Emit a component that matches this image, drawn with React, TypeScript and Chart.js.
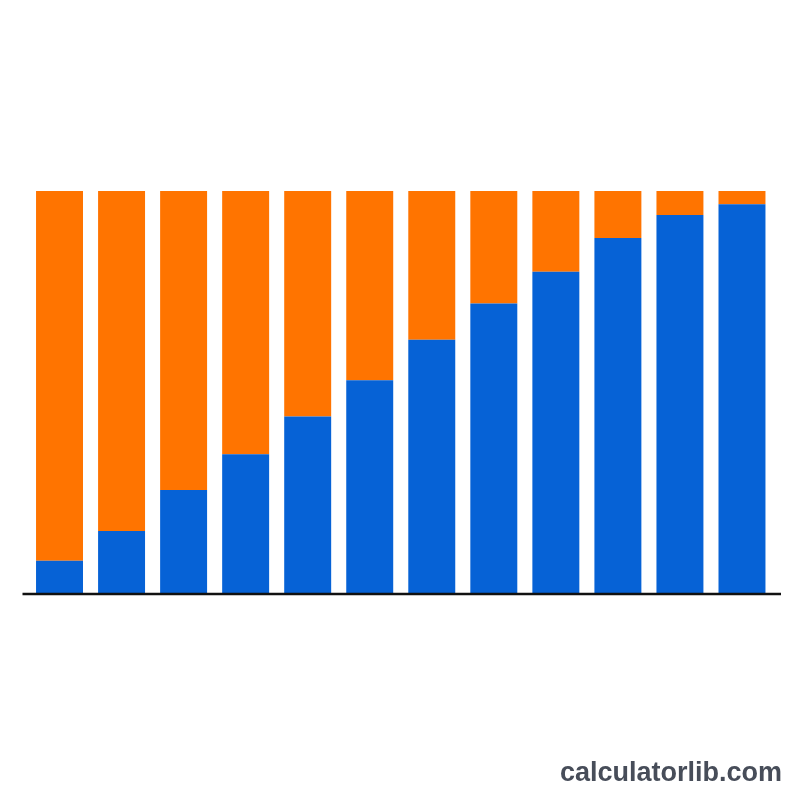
import React, { useEffect, useRef } from "react";
import { Chart, registerables } from "chart.js";

Chart.register(...registerables);

const categories = ["1", "2", "3", "4", "5", "6", "7", "8", "9", "10", "11", "12"];
const blueValues = [8.0, 15.4, 25.6, 34.5, 43.9, 52.9, 63.0, 72.0, 79.9, 88.3, 94.0, 96.7];
const orangeValues = blueValues.map((v) => Math.round((100 - v) * 10) / 10);

const BLUE = "#0662d6";
const ORANGE = "#ff7400";

const baselinePlugin = {
  id: "baseline",
  afterDatasetsDraw(chart: any) {
    const { ctx, chartArea } = chart;
    ctx.save();
    ctx.strokeStyle = "#111111";
    ctx.lineWidth = 2.5;
    ctx.beginPath();
    ctx.moveTo(chartArea.left - 6, chartArea.bottom + 1);
    ctx.lineTo(chartArea.right + 8, chartArea.bottom + 1);
    ctx.stroke();
    ctx.restore();
  },
};

export default function App() {
  const ref = useRef<HTMLCanvasElement | null>(null);
  useEffect(() => {
    document.body.style.margin = "0";
    const chart = new Chart(ref.current as HTMLCanvasElement, {
      type: "bar",
      data: {
        labels: categories,
        datasets: [
          { data: blueValues, backgroundColor: BLUE, borderWidth: 0 },
          { data: orangeValues, backgroundColor: ORANGE, borderWidth: 0 },
        ],
      },
      options: {
        animation: false,
        responsive: false,
        maintainAspectRatio: false,
        layout: { padding: { left: 28.5, right: 27, top: 191, bottom: 207 } },
        datasets: { bar: { barPercentage: 0.757, categoryPercentage: 1 } },
        plugins: { legend: { display: false }, tooltip: { enabled: false }, title: { display: false } },
        scales: {
          x: { stacked: true, display: false },
          y: { stacked: true, display: false, min: 0, max: 100 },
        },
      },
      plugins: [baselinePlugin],
    });
    return () => chart.destroy();
  }, []);
  return (
    <div style={{ position: "relative", width: 800, height: 800, background: "#ffffff" }}>
      <canvas ref={ref} width={800} height={800} style={{ position: "absolute", left: 0, top: 0 }} />
      <div
        style={{
          position: "absolute",
          right: 18,
          top: 756,
          fontFamily: "'Liberation Sans', Arial, sans-serif",
          fontWeight: 700,
          fontSize: 27,
          color: "#474d59",
          lineHeight: "32px",
          whiteSpace: "nowrap",
        }}
      >
        calculatorlib.com
      </div>
    </div>
  );
}
